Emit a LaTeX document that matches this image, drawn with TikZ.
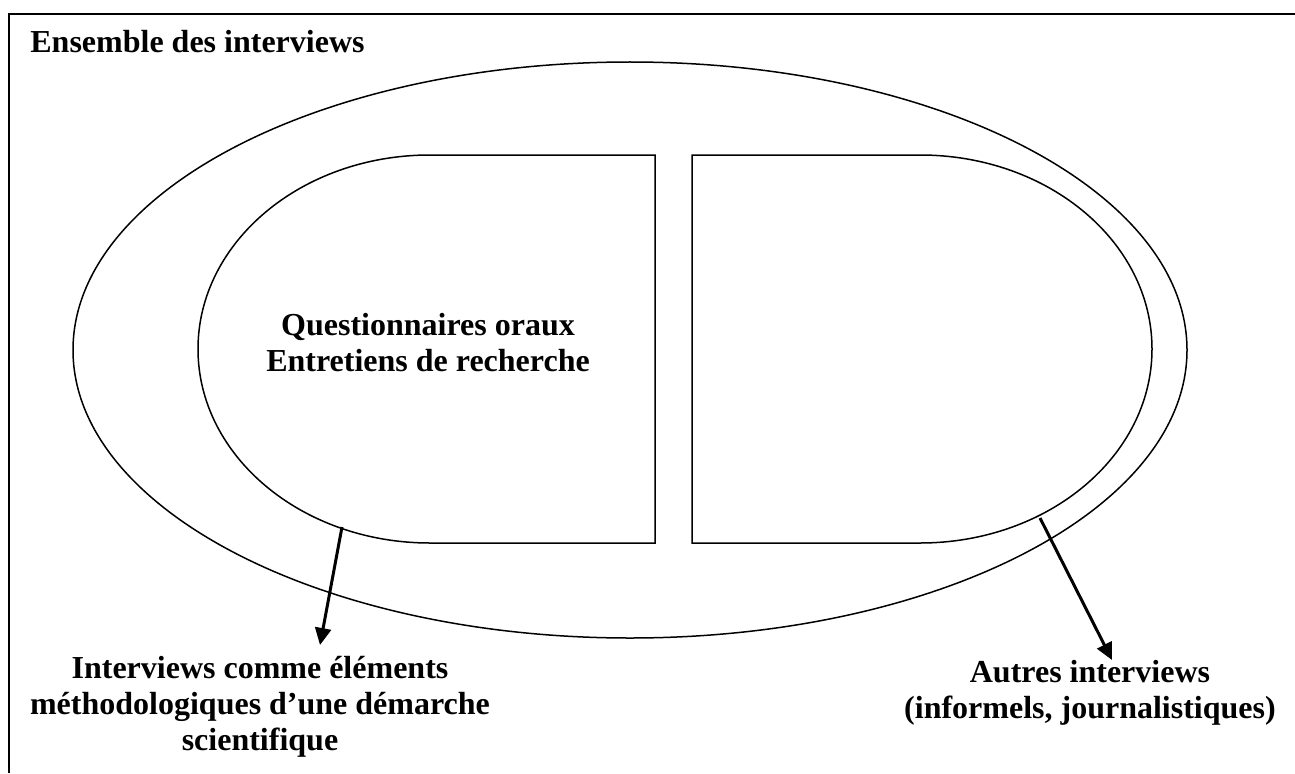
\documentclass[tikz,border=0pt]{standalone}
\usepackage{fontspec}
\setmainfont{Liberation Serif}
\usetikzlibrary{arrows.meta}
\begin{document}
\begin{tikzpicture}[x=0.5pt,y=0.5pt,
  frameline/.style={line width=1.1pt},
  shapeline/.style={line width=0.75pt},
  arr/.style={line width=1.5pt,-{Triangle[length=8.5pt,width=8pt]}},
  lbl/.style={font=\fontsize{16}{18}\selectfont\bfseries,align=center,inner sep=0pt}]
\useasboundingbox (0,0) rectangle (1295,773);
% frame (top and left)
\draw[frameline] (9,0) -- (9,759) -- (1296,759);
\node[lbl,anchor=base west] (title) at (30,720) {Ensemble des interviews};
% outer ellipse
\draw[shapeline] (630,423) ellipse [x radius=557, y radius=288];
% left D shape
\draw[shapeline] (655,618) -- (430,618) arc[start angle=90,end angle=270,x radius=232,y radius=194] -- (655,230) -- cycle;
% right D shape
\draw[shapeline] (692,618) -- (920,618) arc[start angle=90,end angle=-90,x radius=232,y radius=194] -- (692,230) -- cycle;
\node[lbl] (inner) at (428,430) {Questionnaires oraux\\Entretiens de recherche};
% labels
\node[lbl] (left) at (260,66) {Interviews comme éléments\\méthodologiques d’une démarche\\scientifique};
\node[lbl] (right) at (1090,80) {Autres interviews\\(informels, journalistiques)};
% arrows
\coordinate (s1) at (342,246);
\coordinate (t1) at (320,128);
\coordinate (s2) at (1040,255);
\coordinate (t2) at (1112,113);
\draw[arr] (s1) -- (t1);
\draw[arr] (s2) -- (t2);
\end{tikzpicture}
\end{document}
